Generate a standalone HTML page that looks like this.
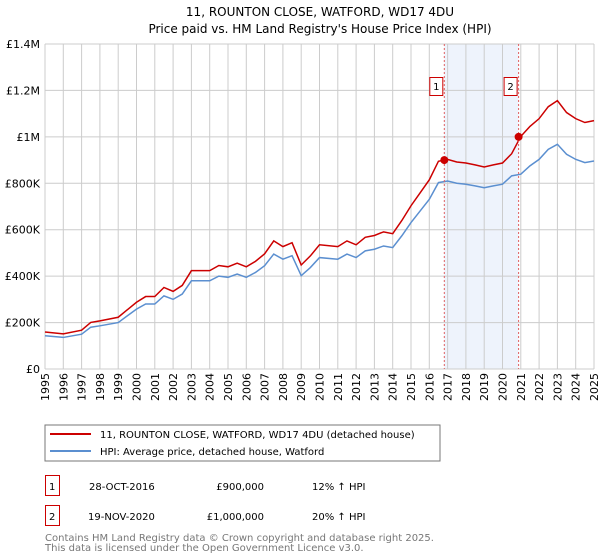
<!DOCTYPE html>
<html><head><meta charset="utf-8"><style>
body{margin:0;background:#fff;font-family:"Liberation Sans","DejaVu Sans",sans-serif;}
#wrap{position:relative;width:600px;height:560px;overflow:hidden}
</style></head><body>
<div id="wrap">
<svg id="svg" width="600" height="560" font-family="DejaVu Sans, Liberation Sans, sans-serif">
<text x="320" y="16" text-anchor="middle" font-size="12">11, ROUNTON CLOSE, WATFORD, WD17 4DU</text>
<text x="320" y="33" text-anchor="middle" font-size="12">Price paid vs. HM Land Registry's House Price Index (HPI)</text>
<g id="plot"></g>
<rect x="45" y="425" width="395" height="36" fill="none" stroke="#777"/>
<line x1="50" y1="434" x2="91" y2="434" stroke="#cc0000" stroke-width="2"/>
<text x="100" y="438" font-size="10">11, ROUNTON CLOSE, WATFORD, WD17 4DU (detached house)</text>
<line x1="50" y1="451" x2="91" y2="451" stroke="#5b8fd0" stroke-width="2"/>
<text x="100" y="455" font-size="10">HPI: Average price, detached house, Watford</text>
<rect x="45.5" y="475.5" width="14" height="20" fill="none" stroke="#cc0000"/>
<text x="49" y="490" font-size="10">1</text>
<text x="89" y="490" font-size="10">28-OCT-2016</text>
<text x="264" y="490" font-size="10" text-anchor="end">£900,000</text>
<text x="312" y="490" font-size="10">12% ↑ HPI</text>
<rect x="45.5" y="505.5" width="14" height="20" fill="none" stroke="#cc0000"/>
<text x="49" y="520" font-size="10">2</text>
<text x="88" y="520" font-size="10">19-NOV-2020</text>
<text x="264" y="520" font-size="10" text-anchor="end">£1,000,000</text>
<text x="312" y="520" font-size="10">20% ↑ HPI</text>
<text x="45" y="541" font-size="10" fill="#777">Contains HM Land Registry data © Crown copyright and database right 2025.</text>
<text x="45" y="551" font-size="10" fill="#777">This data is licensed under the Open Government Licence v3.0.</text>
</svg>
</div>
<script>
const hpiYears=[1995,1996,1997,1997.5,1998,1999,2000,2000.5,2001,2001.5,2002,2002.5,2003,2004,2004.5,2005,2005.5,2006,2006.5,2007,2007.5,2008,2008.5,2009,2009.5,2010,2011,2011.5,2012,2012.5,2013,2013.5,2014,2014.5,2015,2015.5,2016,2016.5,2017,2017.5,2018,2018.5,2019,2019.5,2020,2020.5,2021,2021.5,2022,2022.5,2023,2023.5,2024,2024.5,2025];
const hpiValues=[143,136,150,180,186,200,258,280,280,315,300,323,380,380,400,395,409,395,416,445,495,473,488,402,437,480,473,495,480,509,516,530,523,574,631,681,731,803,810,800,796,789,781,789,796,832,839,875,903,946,968,925,903,889,896];
const saleYears=[2016.82,2020.88];
const salePrices=[900,1000];
const yTicks=[0,200,400,600,800,1000,1200,1400];
const yTickLabels=["£0","£200K","£400K","£600K","£800K","£1M","£1.2M","£1.4M"];
const xTicks=[1995,1996,1997,1998,1999,2000,2001,2002,2003,2004,2005,2006,2007,2008,2009,2010,2011,2012,2013,2014,2015,2016,2017,2018,2019,2020,2021,2022,2023,2024,2025];

const X0=45,X1=594,Y0=369,Y1=44;
const xs=y=>X0+(y-1995)/30*(X1-X0);
const ys=v=>Y0-v/1400*(Y0-Y1);
const NS="http://www.w3.org/2000/svg";
const g=document.getElementById('plot');
function mk(t,a){const e=document.createElementNS(NS,t);for(const k in a)e.setAttribute(k,a[k]);g.appendChild(e);return e;}
function hpiAt(y){for(let i=1;i<hpiYears.length;i++){if(y<=hpiYears[i]){const t=(y-hpiYears[i-1])/(hpiYears[i]-hpiYears[i-1]);return hpiValues[i-1]+t*(hpiValues[i]-hpiValues[i-1]);}}return hpiValues[hpiValues.length-1];}

const sh=mk('rect',{x:xs(saleYears[0]),y:Y1,width:xs(saleYears[1])-xs(saleYears[0]),height:Y0-Y1,fill:'#eef3fc'});


xTicks.forEach(t=>{
 const l=mk('line',{x1:xs(t),x2:xs(t),y1:Y1,y2:Y0,stroke:'#cccccc'});
 
 
 const tx=mk('text',{x:0,y:0,'font-size':11,'text-anchor':'end',transform:`translate(${xs(t)+4},${Y0+4}) rotate(-90)`});
 tx.textContent=t;
 
 
});
yTicks.forEach((t,i)=>{
 const l=mk('line',{x1:X0,x2:X1,y1:ys(t),y2:ys(t),stroke:'#cccccc'});
 
 
 const tx=mk('text',{x:X0-5,y:ys(t)+4,'font-size':11,'text-anchor':'end'});
 tx.textContent=yTickLabels[i];
 
 
});
// red series: HPI indexed to sale prices
const hs=saleYears.map(hpiAt);
const redPts=hpiYears.map((y,i)=>{const r=y<saleYears[1]?salePrices[0]/hs[0]:salePrices[1]/hs[1];return [y,hpiValues[i]*r];});
const blue=mk('polyline',{points:hpiYears.map((y,i)=>xs(y)+','+ys(hpiValues[i])).join(' '),fill:'none',stroke:'#5b8fd0','stroke-width':1.5});


const red=mk('polyline',{points:redPts.map(p=>xs(p[0])+','+ys(p[1])).join(' '),fill:'none',stroke:'#cc0000','stroke-width':1.5});


saleYears.forEach((y,i)=>{
 const l=mk('line',{x1:xs(y),x2:xs(y),y1:Y1,y2:Y0,stroke:'#e06060','stroke-dasharray':'2,2'});
 
 
 const c=mk('circle',{cx:xs(y),cy:ys(salePrices[i]),r:4,fill:'#cc0000'});
 
 
 const b=mk('rect',{x:xs(y)-14.5,y:77.5,width:13,height:18,fill:'#fff',stroke:'#cc0000'});
 
 
 const t=mk('text',{x:xs(y)-8,y:90,'font-size':10,'text-anchor':'middle'});
 t.textContent=String(i+1);
 
 
});
</script>
</body></html>
